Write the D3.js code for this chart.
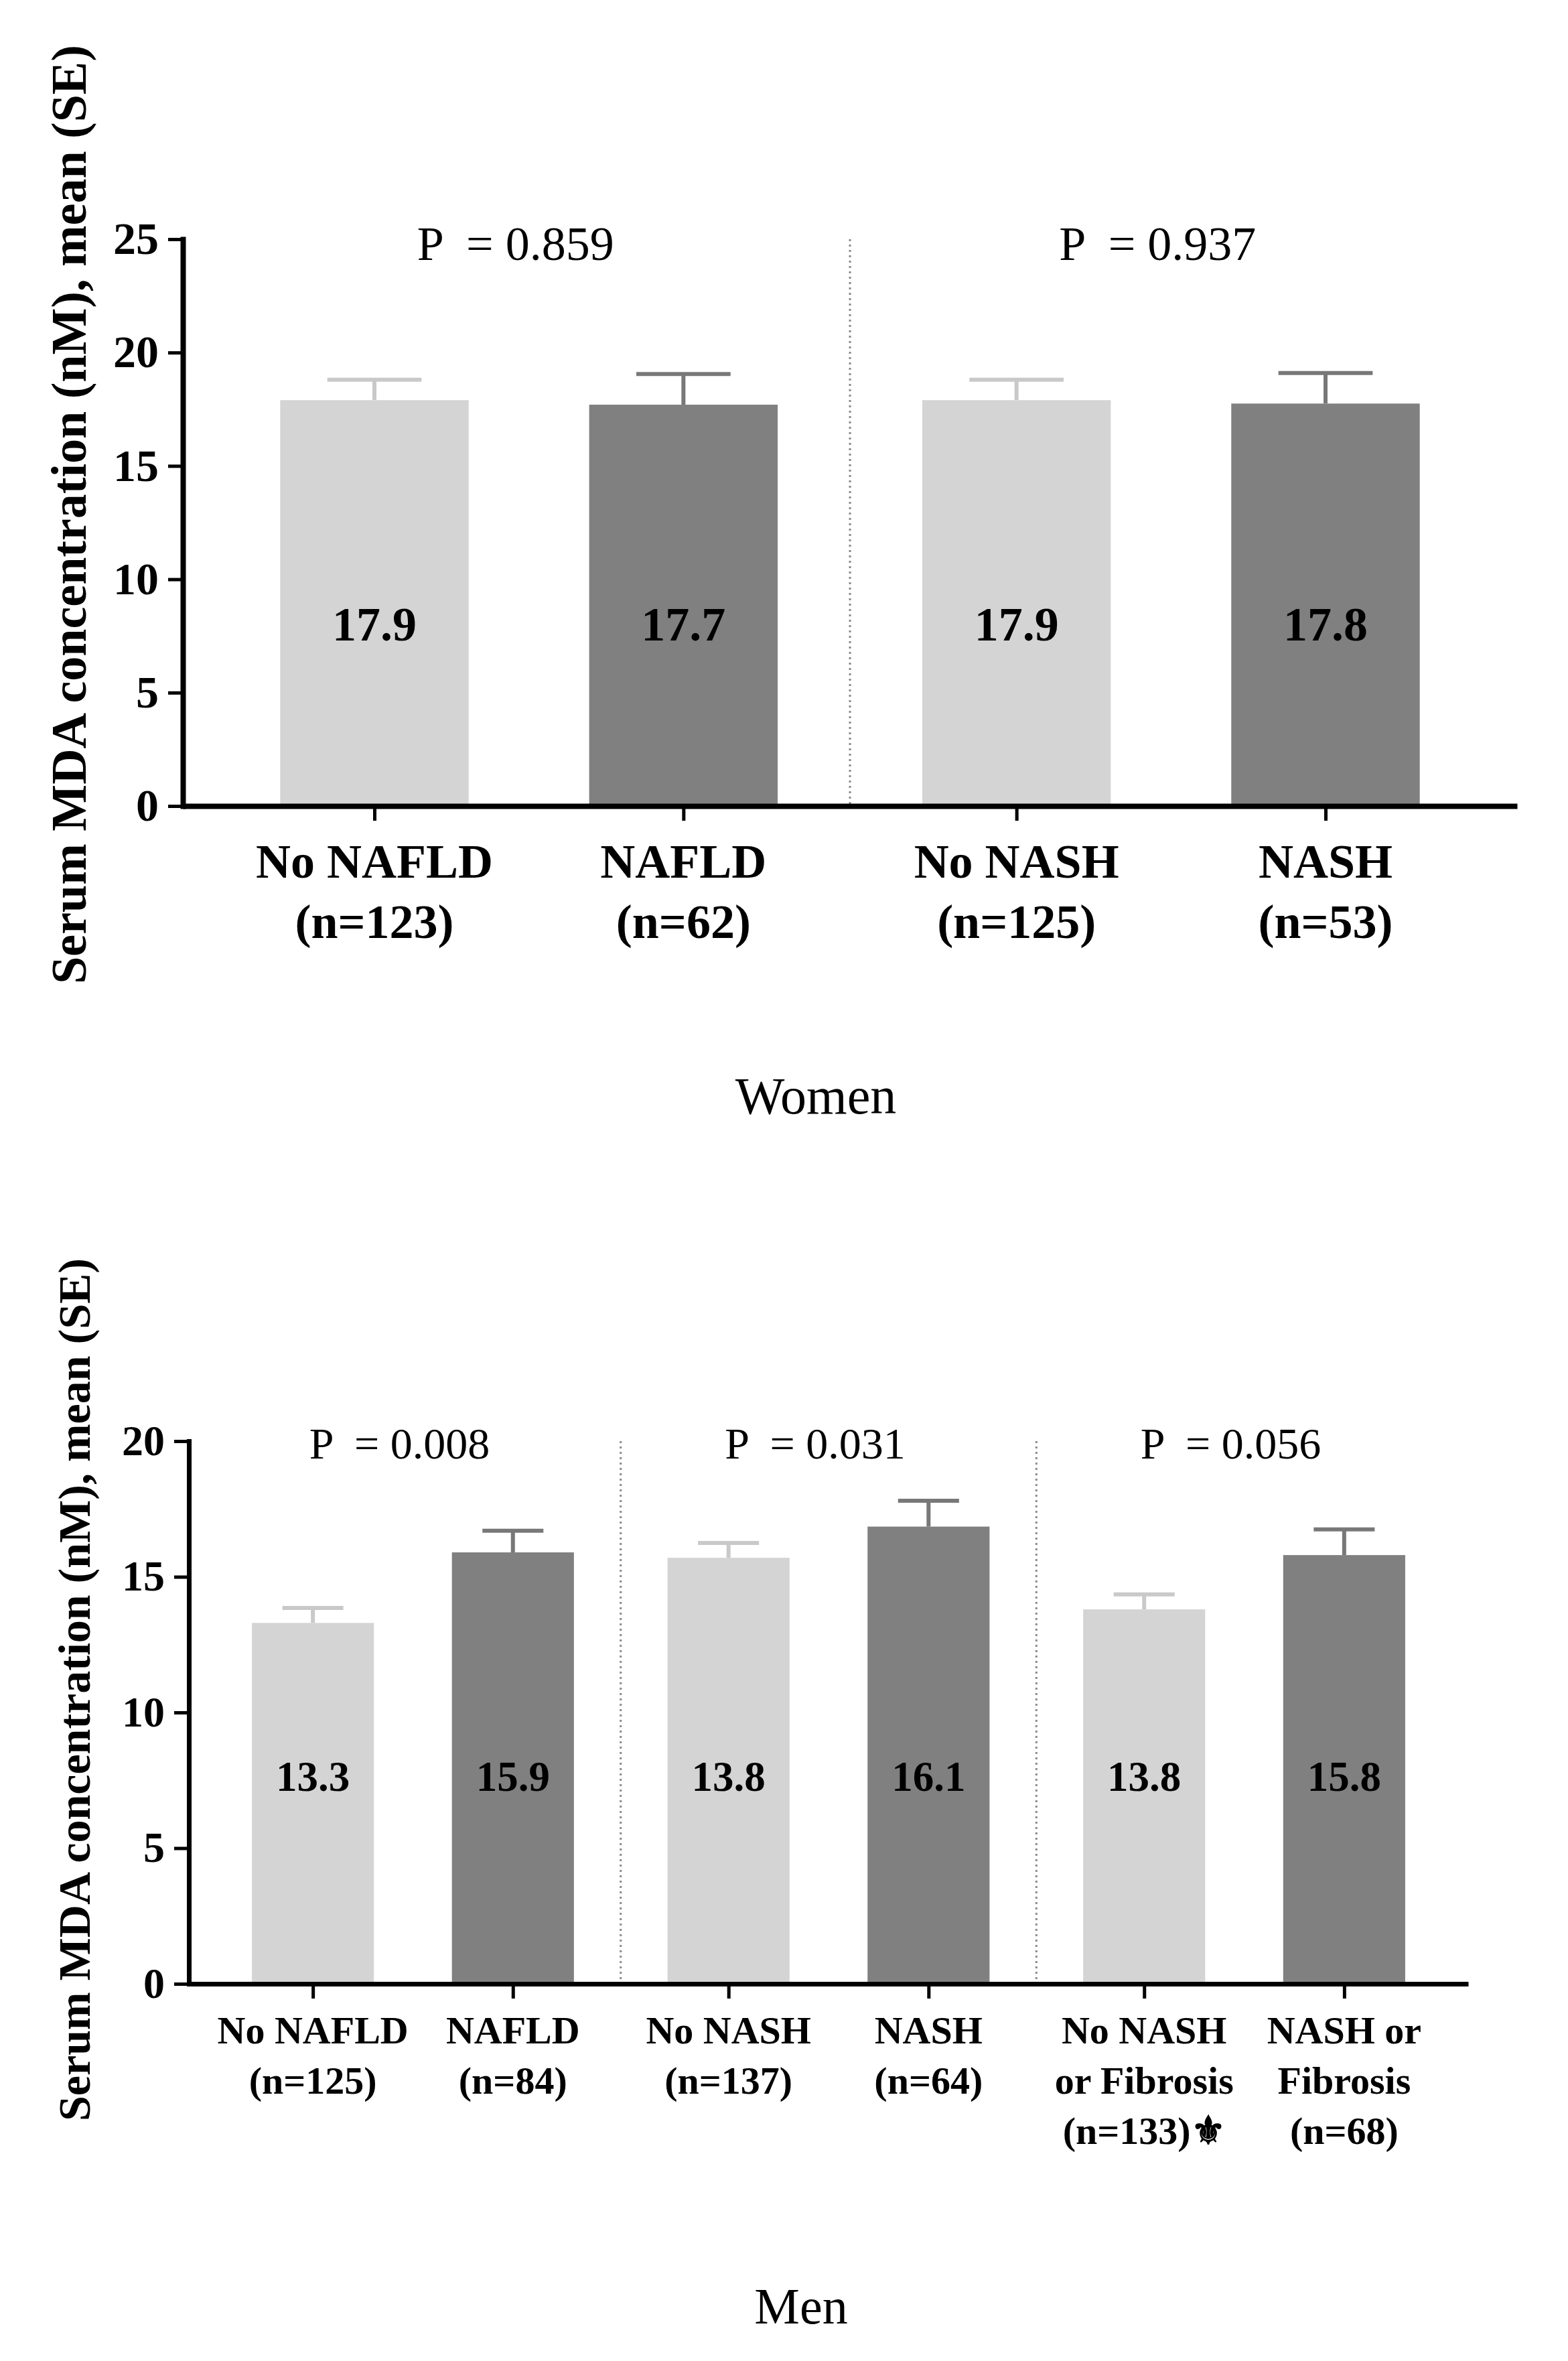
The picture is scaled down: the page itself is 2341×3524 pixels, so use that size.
<!DOCTYPE html>
<html>
<head>
<meta charset="utf-8">
<script src="https://cdn.jsdelivr.net/npm/d3@7"></script>
<style>
  body { margin: 0; background: #fff; }
  text { font-family: "Liberation Serif", "DejaVu Serif", serif; fill: #000; }
</style>
</head>
<body>
<svg id="chart"></svg>
<script>
// women panel
const womenCats = [["No NAFLD", "(n=123)"], ["NAFLD", "(n=62)"], ["No NASH", "(n=125)"], ["NASH", "(n=53)"]]
const womenMeans = [17.9, 17.7, 17.9, 17.75]
const womenSE = [0.9, 1.35, 0.9, 1.35]
const womenValueText = ["17.9", "17.7", "17.9", "17.8"]
const womenGroup = [0, 0, 1, 1]
const womenP = ["P  = 0.859", "P  = 0.937"]
const womenTicks = [0, 5, 10, 15, 20, 25]

// men panel
const menCats = [["No NAFLD", "(n=125)"], ["NAFLD", "(n=84)"], ["No NASH", "(n=137)"], ["NASH", "(n=64)"],
  ["No NASH", "or Fibrosis", "(n=133)\u269C"], ["NASH or", "Fibrosis", "(n=68)"]]
const menMeans = [13.3, 15.9, 15.7, 16.85, 13.8, 15.8]
const menSE = [0.55, 0.8, 0.55, 0.95, 0.55, 0.95]
const menValueText = ["13.3", "15.9", "13.8", "16.1", "13.8", "15.8"]
const menGroup = [0, 0, 1, 1, 2, 2]
const menP = ["P  = 0.008", "P  = 0.031", "P  = 0.056"]
const menTicks = [0, 5, 10, 15, 20]

const yTitle = "Serum MDA concentration (nM), mean (SE)"

const svg = d3.select("#chart")
  .attr("width", 2341)
  .attr("height", 3524)

const fills = ["#d4d4d4", "#808080"]
const errColors = ["#c9c9c9", "#787878"]

function drawPanel(p) {
  const n = p.means.length
  const nGroups = d3.max(p.group) + 1
  const pad = 0.62, gap = 0.078
  const pos = (i) => i + p.group[i] * gap

  const x = d3.scaleLinear()
    .domain([-pad, n - 1 + (nGroups - 1) * gap + pad])
    .range([p.left, p.right])
  const y = d3.scaleLinear()
    .domain([0, d3.max(p.ticks)])
    .range([p.bottom, p.top])

  const slot = x(1) - x(0)
  const barW = slot * 0.61
  const g = svg.append("g")

  // group separators
  for (let k = 1; k < nGroups; k++) {
    const a = p.group.indexOf(k) - 1
    const sx = (x(pos(a)) + x(pos(a + 1))) / 2
    g.append("line")
      .attr("x1", sx).attr("x2", sx)
      .attr("y1", y(d3.max(p.ticks))).attr("y2", p.bottom)
      .attr("stroke", "#8a8a8a")
      .attr("stroke-width", 3)
      .attr("stroke-dasharray", "3,5")
  }

  // error bars
  const err = g.selectAll("g.err")
    .data(p.means)
    .enter()
    .append("g")
    .attr("class", "err")
    .attr("stroke", (d, i) => errColors[i % 2])
    .attr("stroke-width", p.errW)
  err.append("line")
    .attr("x1", (d, i) => x(pos(i))).attr("x2", (d, i) => x(pos(i)))
    .attr("y1", (d) => y(d)).attr("y2", (d, i) => y(d + p.se[i]))
  err.append("line")
    .attr("x1", (d, i) => x(pos(i)) - barW / 4).attr("x2", (d, i) => x(pos(i)) + barW / 4)
    .attr("y1", (d, i) => y(d + p.se[i])).attr("y2", (d, i) => y(d + p.se[i]))

  // bars
  g.selectAll("rect.bar")
    .data(p.means)
    .enter()
    .append("rect")
    .attr("class", "bar")
    .attr("x", (d, i) => x(pos(i)) - barW / 2)
    .attr("y", (d) => y(d))
    .attr("width", barW)
    .attr("height", (d) => p.bottom - y(d))
    .attr("fill", (d, i) => fills[i % 2])

  // value labels
  g.selectAll("text.val")
    .data(p.valueText)
    .enter()
    .append("text")
    .attr("class", "val")
    .attr("x", (d, i) => x(pos(i)))
    .attr("y", y(p.labelAt))
    .attr("text-anchor", "middle")
    .attr("font-weight", "bold")
    .attr("font-size", p.valSize)
    .text((d) => d)

  // y axis
  const yAxis = g.append("g")
    .attr("transform", `translate(${p.left},0)`)
    .call(d3.axisLeft(y).tickValues(p.ticks).tickSize(p.tickLen).tickSizeOuter(0).tickPadding(14))
  yAxis.select(".domain").attr("stroke-width", p.axisW).attr("stroke-linecap", "square")
  yAxis.selectAll(".tick line").attr("stroke-width", 5)
  yAxis.selectAll(".tick text")
    .attr("font-family", "Liberation Serif")
    .attr("font-weight", "bold")
    .attr("font-size", p.tickSize)
    .attr("fill", "#000")

  // x axis
  const xAxis = g.append("g")
    .attr("transform", `translate(0,${p.bottom})`)
    .call(d3.axisBottom(x).tickValues(d3.range(n).map(pos)).tickFormat("").tickSize(p.tickLen).tickSizeOuter(0))
  xAxis.select(".domain").attr("stroke-width", p.axisW)
  xAxis.selectAll(".tick line").attr("stroke-width", 5)

  // category labels
  const cats = g.selectAll("text.cat")
    .data(p.cats)
    .enter()
    .append("text")
    .attr("class", "cat")
    .attr("text-anchor", "middle")
    .attr("font-weight", "bold")
    .attr("font-size", p.catSize)
  cats.selectAll("tspan")
    .data((d, i) => d.map((t) => ({t: t, i: i})))
    .enter()
    .append("tspan")
    .attr("x", (d) => x(pos(d.i)))
    .attr("y", (d, j) => p.catY + j * p.catLine)
    .text((d) => d.t)

  // p values
  g.selectAll("text.pval")
    .data(p.pvals)
    .enter()
    .append("text")
    .attr("class", "pval")
    .attr("x", (d, k) => {
      const a = p.group.indexOf(k)
      return (x(pos(a)) + x(pos(a + 1))) / 2 - 20
    })
    .attr("y", p.pY)
    .attr("text-anchor", "middle")
    .attr("font-size", p.pSize)
    .style("white-space", "pre")
    .text((d) => d)

  // y title
  g.append("text")
    .attr("transform", `translate(${p.titleX},${p.titleY}) rotate(-90)`)
    .attr("text-anchor", "middle")
    .attr("font-weight", "bold")
    .attr("font-size", p.titleSize)
    .text(yTitle)

  // panel caption
  g.append("text")
    .attr("x", p.capX)
    .attr("y", p.capY)
    .attr("text-anchor", "middle")
    .attr("font-size", p.capSize)
    .text(p.caption)
}

drawPanel({
  cats: womenCats, means: womenMeans, se: womenSE, valueText: womenValueText,
  group: womenGroup, pvals: womenP, ticks: womenTicks, caption: "Women",
  left: 273, right: 2265, top: 357, bottom: 1203,
  axisW: 8, errW: 6, tickLen: 22, tickSize: 68,
  labelAt: 7.3, valSize: 72,
  catY: 1310, catLine: 90, catSize: 72,
  pY: 388, pSize: 72,
  titleX: 128, titleY: 768, titleSize: 74,
  capX: 1218, capY: 1662, capSize: 78
})

drawPanel({
  cats: menCats, means: menMeans, se: menSE, valueText: menValueText,
  group: menGroup, pvals: menP, ticks: menTicks, caption: "Men",
  left: 282, right: 2192, top: 2151, bottom: 2961,
  axisW: 7, errW: 6, tickLen: 22, tickSize: 64,
  labelAt: 7.1, valSize: 63,
  catY: 3050, catLine: 75, catSize: 58,
  pY: 2177, pSize: 66,
  titleX: 134, titleY: 2522, titleSize: 68,
  capX: 1196, capY: 3468, capSize: 76
})
</script>
</body>
</html>
